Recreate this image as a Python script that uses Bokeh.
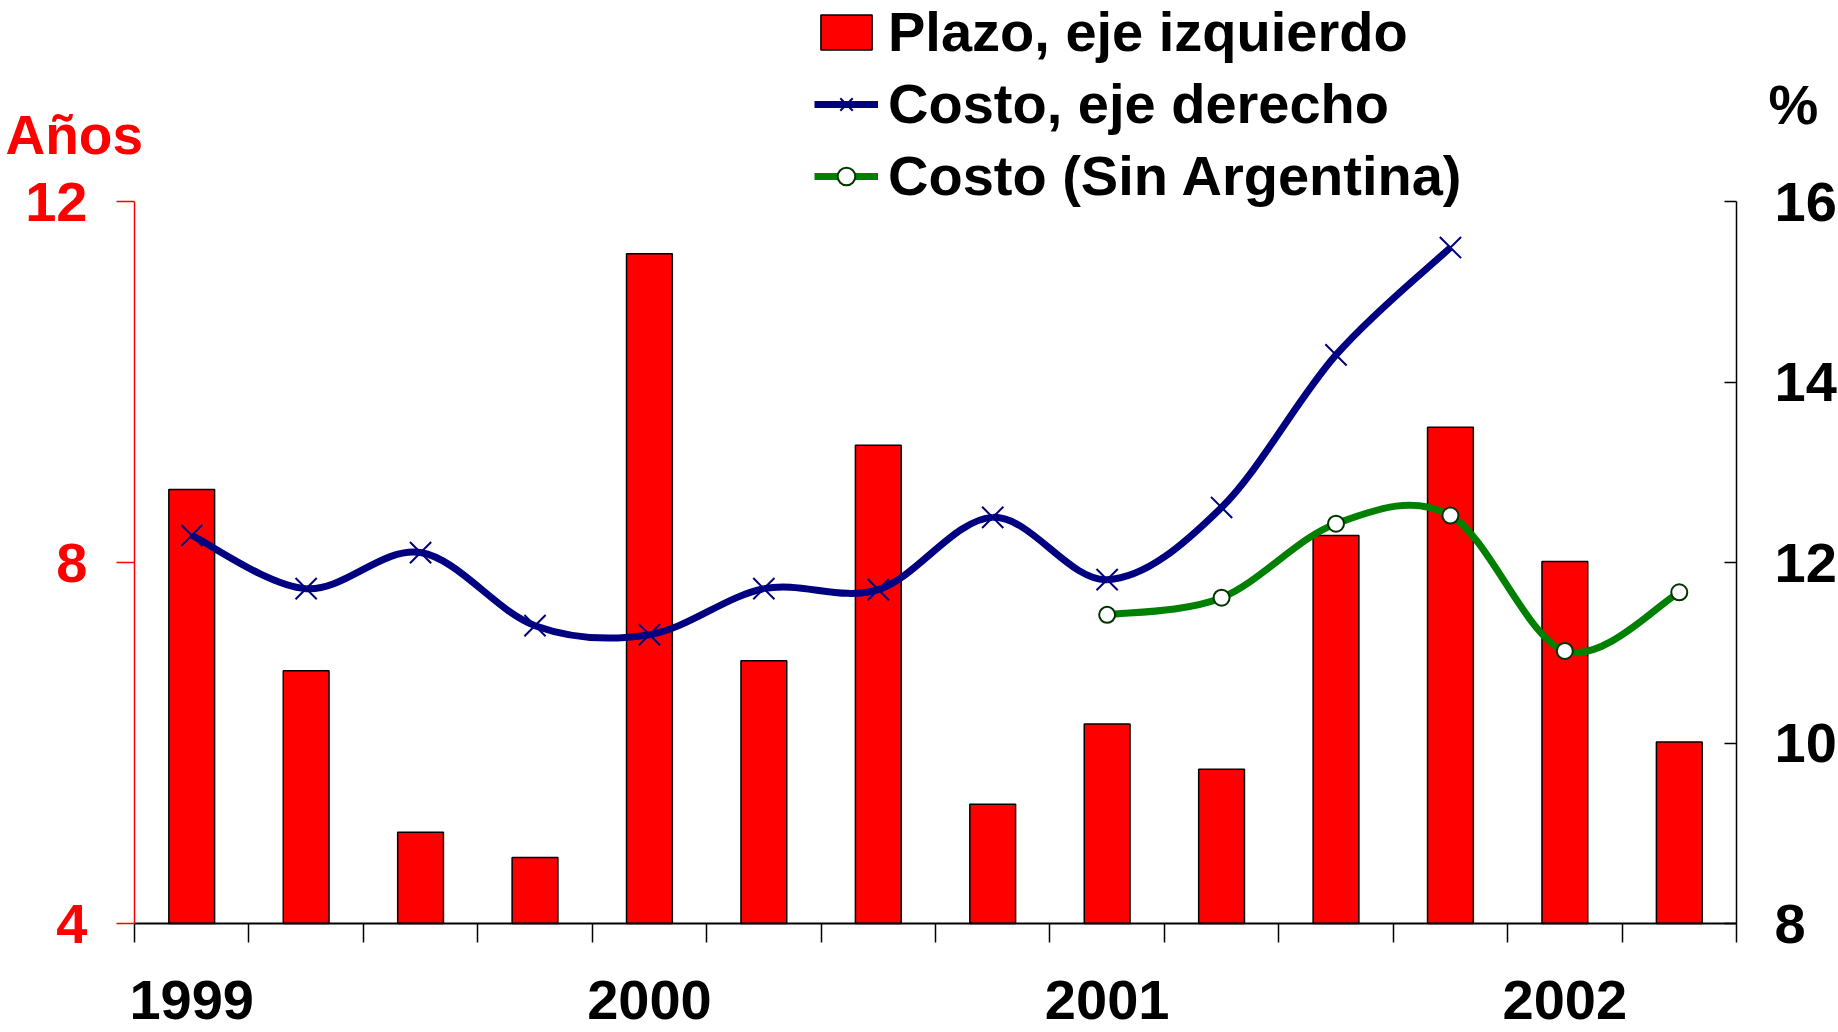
from bokeh.plotting import figure
from bokeh.models import (Range1d, LinearAxis, FixedTicker, Legend, LegendItem,
                          Label, ColumnDataSource)
from bokeh.embed import file_html
from bokeh.resources import INLINE

# ---------------- data ----------------
periodos = ["1999-T1", "1999-T2", "1999-T3", "1999-T4",
            "2000-T1", "2000-T2", "2000-T3", "2000-T4",
            "2001-T1", "2001-T2", "2001-T3", "2001-T4",
            "2002-T1", "2002-T2"]
anios = ["1999", "2000", "2001", "2002"]
anio_idx = [0, 4, 8, 12]

plazo = [8.81, 6.80, 5.01, 4.73, 11.42, 6.91, 9.30, 5.32, 6.21, 5.71, 8.30, 9.50, 8.01, 6.01]

costo_idx = [0, 1, 2, 3, 4, 5, 6, 7, 8, 9, 10, 11]
costo = [12.30, 11.71, 12.11, 11.30, 11.20, 11.71, 11.70, 12.50, 11.81, 12.61, 14.30, 15.49]

sin_arg_idx = [8, 9, 10, 11, 12, 13]
costo_sin_arg = [11.42, 11.61, 12.43, 12.52, 11.02, 11.67]

ticks_izq = [4, 8, 12]
ticks_der = [8, 10, 12, 14, 16]

FONT = "Liberation Sans"

# ---------------- layout (pixels) ----------------
W, H = 1838, 1032
PL, PR, PT, PB = 134, 1736, 201, 923   # plot-area edges on the canvas


def suavizar(xs, ys):
    """Bezier control points (Catmull-Rom style smoothing, as in spreadsheet smoothed lines)."""
    n = len(xs)
    d = dict(x0=[], y0=[], x1=[], y1=[], cx0=[], cy0=[], cx1=[], cy1=[])
    for i in range(n - 1):
        a = max(i - 1, 0)
        b = min(i + 2, n - 1)
        d["x0"].append(xs[i]); d["y0"].append(ys[i])
        d["x1"].append(xs[i + 1]); d["y1"].append(ys[i + 1])
        d["cx0"].append(xs[i] + (xs[i + 1] - xs[a]) / 6.0)
        d["cy0"].append(ys[i] + (ys[i + 1] - ys[a]) / 6.0)
        d["cx1"].append(xs[i + 1] - (xs[b] - xs[i]) / 6.0)
        d["cy1"].append(ys[i + 1] - (ys[b] - ys[i]) / 6.0)
    return ColumnDataSource(d)


n = len(periodos)
idx = list(range(n))

# data extents of the plot area, extended so the whole canvas is the frame
x0d, x1d = -0.5, n - 0.5
kx = (x1d - x0d) / (PR - PL)
yl0, yl1 = ticks_izq[0], ticks_izq[-1]
kyl = (yl1 - yl0) / (PB - PT)
yr0, yr1 = ticks_der[0], ticks_der[-1]
kyr = (yr1 - yr0) / (PB - PT)

p = figure(width=W, height=H,
           x_range=Range1d(x0d - PL * kx, x1d + (W - PR) * kx),
           y_range=Range1d(yl0 - (H - PB) * kyl, yl1 + PT * kyl),
           output_backend="svg", toolbar_location=None, x_axis_location=None, y_axis_location=None,
           min_border_left=0, min_border_right=0, min_border_top=0, min_border_bottom=0)
p.extra_y_ranges = {"der": Range1d(yr0 - (H - PB) * kyr, yr1 + PT * kyr)}
p.outline_line_color = None
p.xgrid.visible = False
p.ygrid.visible = False
p.background_fill_color = "white"
p.border_fill_color = "white"

# bars
barras = p.vbar(x=idx, top=plazo, bottom=yl0, width=0.40,
                fill_color="#FF0000", line_color="black", line_width=1.5)

# smoothed lines
src_c = suavizar(costo_idx, costo)
linea_c = p.bezier(x0="x0", y0="y0", x1="x1", y1="y1", cx0="cx0", cy0="cy0", cx1="cx1", cy1="cy1",
                   source=src_c, line_color="#000080", line_width=7, y_range_name="der")
src_s = suavizar(sin_arg_idx, costo_sin_arg)
linea_s = p.bezier(x0="x0", y0="y0", x1="x1", y1="y1", cx0="cx0", cy0="cy0", cx1="cx1", cy1="cy1",
                   source=src_s, line_color="#008000", line_width=7, y_range_name="der")
pts_c = p.scatter(costo_idx, costo, marker="x", size=30, line_color="#000080", line_width=2,
                  y_range_name="der")
pts_s = p.scatter(sin_arg_idx, costo_sin_arg, marker="circle", size=16, fill_color="white",
                  line_color="#003300", line_width=2, y_range_name="der")

# bottom axis (category boundaries as ticks, years as labels)
bordes = [i - 0.5 for i in range(n + 1)]
xa = LinearAxis(fixed_location=yl0, bounds=(x0d, x1d),
                ticker=FixedTicker(ticks=anio_idx, minor_ticks=bordes),
                major_label_overrides={k: v for k, v in zip(anio_idx, anios)})
xa.major_tick_out = 0
xa.major_tick_in = 0
xa.minor_tick_out = 19
xa.minor_tick_in = 0
xa.axis_line_color = "black"
xa.axis_line_width = 2
xa.minor_tick_line_color = "black"
xa.minor_tick_line_width = 1.5
xa.major_label_standoff = 38
xa.major_label_text_font = FONT
xa.major_label_text_font_style = "bold"
xa.major_label_text_font_size = "56px"
xa.major_label_text_color = "black"
p.add_layout(xa, "below")

# left axis
ya = LinearAxis(fixed_location=x0d, bounds=(yl0, yl1), ticker=FixedTicker(ticks=ticks_izq))
ya.axis_line_color = "#FF0000"
ya.axis_line_width = 1.5
ya.major_tick_line_color = "#FF0000"
ya.major_tick_line_width = 1.5
ya.major_tick_out = 18
ya.major_tick_in = 0
ya.minor_tick_out = 0
ya.minor_tick_in = 0
ya.major_label_standoff = 29
ya.major_label_text_color = "#FF0000"
ya.major_label_text_font = FONT
ya.major_label_text_font_style = "bold"
ya.major_label_text_font_size = "56px"
p.add_layout(ya, "left")

# right axis
ra = LinearAxis(y_range_name="der", fixed_location=x1d, bounds=(yr0, yr1),
                ticker=FixedTicker(ticks=ticks_der))
ra.axis_line_color = "black"
ra.axis_line_width = 1.5
ra.major_tick_line_color = "black"
ra.major_tick_line_width = 1.5
ra.major_tick_in = 12
ra.major_tick_out = 0
ra.minor_tick_in = 0
ra.minor_tick_out = 0
ra.major_label_standoff = 38
ra.major_label_text_color = "black"
ra.major_label_text_font = FONT
ra.major_label_text_font_style = "bold"
ra.major_label_text_font_size = "56px"
p.add_layout(ra, "right")

# axis titles
p.add_layout(Label(x=x0d, y=yl1, x_offset=-129, y_offset=67, text="Años",
                   text_align="left", text_baseline="alphabetic", text_font=FONT,
                   text_font_style="bold", text_font_size="55px", text_color="#FF0000"))
p.add_layout(Label(x=x1d, y=yr1, y_range_name="der", x_offset=32, y_offset=97,
                   text="%", text_align="left", text_baseline="alphabetic", text_font=FONT,
                   text_font_style="bold", text_font_size="56px", text_color="black"))

# legend
leyenda = Legend(items=[
    LegendItem(label="Plazo, eje izquierdo", renderers=[barras]),
    LegendItem(label="Costo, eje derecho", renderers=[linea_c, pts_c]),
    LegendItem(label="Costo (Sin Argentina)", renderers=[linea_s, pts_s]),
], location=(814, 824), orientation="vertical",
    glyph_width=64, glyph_height=44, label_standoff=10, spacing=7,
    padding=0, margin=0, border_line_color=None, background_fill_alpha=0,
    label_text_font=FONT, label_text_font_style="bold", label_text_font_size="56px",
    label_text_color="black")
p.add_layout(leyenda)

open("out.html", "w").write(file_html(p, INLINE))
